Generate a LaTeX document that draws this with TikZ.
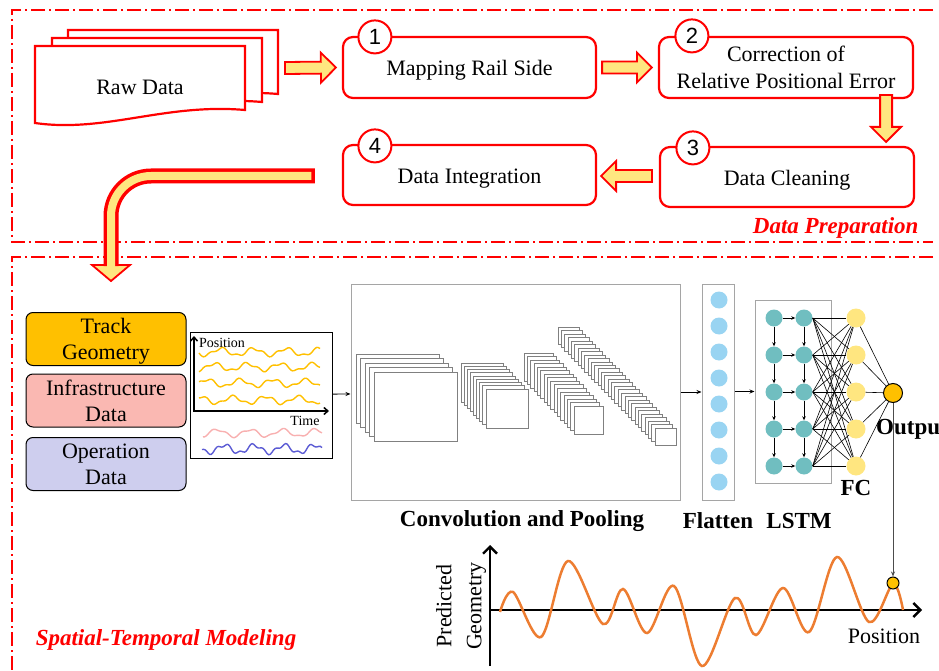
\documentclass[tikz,border=0pt]{standalone}
\usepackage{fontspec}
\setmainfont{Liberation Serif}
\newfontfamily\numfont{Liberation Sans}
\usetikzlibrary{arrows.meta, calc}

\definecolor{arrowfill}{RGB}{255,230,128}
\definecolor{trackcol}{RGB}{255,192,0}
\definecolor{infracol}{RGB}{250,184,178}
\definecolor{opercol}{RGB}{206,206,238}
\definecolor{wavepink}{RGB}{248,176,176}
\definecolor{waveblue}{RGB}{92,92,212}
\definecolor{flatcol}{RGB}{153,212,242}
\definecolor{lstmcol}{RGB}{112,190,192}
\definecolor{fccol}{RGB}{255,230,128}
\definecolor{predcol}{RGB}{237,125,49}
\definecolor{boxgray}{RGB}{165,165,165}

\begin{document}
\begin{tikzpicture}[x=1pt, y=-1pt,
stepbox/.style={draw=red, fill=white, line width=2.2pt, rounded corners=10pt, minimum width=253pt, minimum height=61pt, align=center, font=\fontsize{22}{27}\selectfont},
oneline/.style={text height=22pt, text depth=5pt},
numcirc/.style={circle, draw=red, fill=white, line width=2pt, minimum size=33pt, inner sep=0pt, font=\numfont\fontsize{22}{22}\selectfont},
blockarrow/.style={draw=red, fill=arrowfill, line width=1.8pt, to path={
  let \p1=(\tikztostart), \p2=(\tikztotarget), \n1={atan2(\y2-\y1,\x2-\x1)}, \n2={veclen(\x2-\x1,\y2-\y1)} in
  [shift={(\p1)}, rotate=\n1] (0,6) -- (\n2-15,6) -- (\n2-15,15) -- (\n2,0) -- (\n2-15,-15) -- (\n2-15,-6) -- (0,-6) -- cycle}},
sectionframe/.style={red, line width=1.5pt, dash pattern=on 14pt off 4pt on 2pt off 4pt},
sectionlabel/.style={text=red, font=\bfseries\itshape\fontsize{23}{23}\selectfont},
inbox/.style={draw, rounded corners=7pt, line width=1pt, minimum width=160pt, minimum height=53pt, align=center, text depth=0pt, font=\fontsize{22}{26}\selectfont},
panel/.style={draw=boxgray, line width=1pt, inner sep=0pt},
fmap/.style={draw=gray, fill=white, line width=0.6pt},
link/.style={-{Stealth[length=5pt,width=4pt]}, line width=0.8pt},
flatnode/.style={circle, fill=flatcol, minimum size=17pt, inner sep=0pt},
lstmnode/.style={circle, fill=lstmcol, minimum size=17pt, inner sep=0pt},
fcnode/.style={circle, fill=fccol, minimum size=19pt, inner sep=0pt},
netlabel/.style={font=\bfseries\fontsize{23}{23}\selectfont}
]
\useasboundingbox (0,0) rectangle (939,671);

% Sections
\draw[sectionframe] (933,10) -- (12,10) -- (12,242) -- (933,242);
\draw[sectionframe] (933,257) -- (12,257) -- (12,671);

% Raw data
\foreach \dx/\dy in {33/-16, 17/-8, 0/0}
  \draw[red, fill=white, line width=2.2pt, shift={(\dx,\dy)}] (35,46) -- (245,46) -- (245,110) .. controls (165,103) and (105,133) .. (35,123) -- cycle;
\node[font=\fontsize{22}{22}\selectfont] (raw) at (140,87) {Raw Data};
\coordinate (rawout) at (285,68);

% Preparation steps
\node[stepbox, oneline] (m1) at (469.5,67.5) {Mapping Rail Side};
\node[stepbox, minimum width=254pt, text depth=0pt] (m2) at (786,67.5) {Correction of\\Relative Positional Error};
\node[stepbox, oneline, minimum width=254pt, minimum height=60pt] (m3) at (787,177) {Data Cleaning};
\node[stepbox, oneline, minimum height=60pt] (m4) at (469.5,175) {Data Integration};

\node[numcirc] (n1) at ($(m1.north west)+(33,1)$) {1};
\node[numcirc] (n2) at ($(m2.north west)+(34,0)$) {2};
\node[numcirc] (n3) at ($(m3.north west)+(34,2)$) {3};
\node[numcirc] (n4) at ($(m4.north west)+(33,2)$) {4};

\draw[blockarrow] (rawout) to ($(m1.west)+(-6,0)$);
\draw[blockarrow] ($(m1.east)+(5,0)$) to ($(m2.west)+(-6,0)$);
\draw[blockarrow] ($(m2.south east)+(-28,-4)$) to ($(m3.north east)+(-29,-4)$);
\draw[blockarrow] ($(m3.west)+(-7,-1)$) to ($(m4.east)+(4,1)$);

% Into the model
\coordinate (modelin) at (111,281);
\draw[red, fill=arrowfill, line width=1.8pt, line join=miter] ($(modelin)+(-19,-16)$) -- ($(modelin)+(19,-16)$) -- (modelin) -- cycle;
\draw[red, line width=15pt, rounded corners=40pt] ($(m4.west)+(-27,1)$) -| ($(modelin)+(0,-15)$);
\draw[arrowfill, line width=8pt, rounded corners=40pt] ($(m4.west)+(-30.5,1)$) -| ($(modelin)+(0,-13)$);

\node[sectionlabel, anchor=east] (prep) at (922,228) {Data Preparation};

% Inputs
\node[inbox, fill=trackcol] (track) at (106,339) {Track\\Geometry};
\node[inbox, fill=infracol] (infra) at (106,400.5) {Infrastructure\\Data};
\node[inbox, fill=opercol] (oper) at (106,464) {Operation\\Data};

\node[draw, line width=0.8pt, minimum width=142pt, minimum height=126pt, inner sep=0pt] (series) at (261,395) {};
\draw[line width=1.5pt, {Straight Barb[length=4pt,width=7pt]}-{Straight Barb[length=4pt,width=7pt]}] (194,336) -- (194,411) -- (329,411);
\node[font=\fontsize{14}{14}\selectfont] (poslabel) at (222,343) {Position};
\node[font=\fontsize{14}{14}\selectfont] (timelabel) at (305,421) {Time};
\foreach \yy/\ph in {352/0, 367/70, 383/150, 400/230}
  \draw[trackcol, line width=1.4pt] plot[domain=199:320, samples=80, smooth] (\x, {\yy + 3.5*sin(11*\x+\ph) + 1.4*sin(27*\x+2*\ph)});
\draw[wavepink, line width=1.4pt] plot[domain=203:322, samples=80, smooth] (\x, {433 + 3.5*sin(11*\x+40) + 1.2*sin(25*\x)});
\draw[waveblue, line width=1.4pt] plot[domain=202:322, samples=80, smooth] (\x, {449 + 4*sin(12*\x+100) + 1.8*sin(31*\x+30)});

% Convolution and pooling
\node[panel, minimum width=329pt, minimum height=216pt] (conv) at (515.5,392) {};
\foreach \i in {0,...,4}
  \draw[fmap] (356+4.5*\i,354+4.5*\i) rectangle ++(83,69);
\foreach \i in {0,...,8}
  \draw[fmap] (461+3.1*\i,363+3.25*\i) rectangle ++(42,39);
\foreach \i in {0,...,15}
  \draw[fmap] (524+3.33*\i,353+3.53*\i) rectangle ++(29,28);
\foreach \i in {0,...,29}
  \draw[fmap] (558+3.34*\i,327+3.48*\i) rectangle ++(21,17);

% Flatten
\node[panel, minimum width=32pt, minimum height=216pt] (flat) at (718,392) {};
\foreach \i in {0,...,7}
  \node[flatnode] (fl\i) at (719,300+26*\i) {};

% LSTM
\node[panel, minimum width=76pt, minimum height=183pt] (lstm) at (793,391.5) {};
\foreach \i in {1,...,5} {
  \node[lstmnode] (a\i) at (774,281+37*\i) {};
  \node[lstmnode] (b\i) at (804,281+37*\i) {};
  \node[fcnode] (f\i) at (856,281+37*\i) {};
}
\foreach \i in {1,...,5}
  \draw[-{Stealth[length=4pt,width=3.5pt]}, line width=0.7pt] (a\i) -- (b\i);
\foreach \i/\j in {1/2, 2/3, 3/4, 4/5} {
  \draw[-{Stealth[length=4pt,width=3.5pt]}, line width=0.7pt] (a\i) -- (a\j);
  \draw[-{Stealth[length=4pt,width=3.5pt]}, line width=0.7pt] (b\i) -- (b\j);
}

% FC and output
\node[circle, draw, fill=trackcol, line width=1pt, minimum size=19pt, inner sep=0pt] (output) at (893,393) {};
\foreach \i in {1,...,5} {
  \foreach \j in {1,...,5}
    \draw[line width=0.6pt] (b\i.east) -- (f\j);
  \draw[line width=0.6pt] (f\i) -- (output);
}

\draw[link] (series) -- (conv);
\draw[link] (conv) -- (flat);
\draw[link] (flat.east |- lstm.west) -- (lstm.west);

\node[netlabel] (outlabel) at (912,429) {Output};
\node[netlabel] (fclabel) at (856,488) {FC};
\node[netlabel] (convlabel) at (522,521) {Convolution and Pooling};
\node[netlabel] (flatlabel) at (718,521) {Flatten};
\node[netlabel] (lstmlabel) at (799,521) {LSTM};

% Prediction
\draw[line width=2.4pt, -{Straight Barb[length=7pt,width=14pt]}] (490,666) -- (490,545);
\draw[line width=2.4pt, -{Straight Barb[length=7pt,width=14pt]}] (490,610) -- (922,610);
\draw[predcol, line width=2.5pt] plot[smooth, tension=0.55] coordinates {(500,612) (513,592) (541,637) (568,561) (603,624) (623,589) (647,633) (674,586) (702,666) (735,598) (756,635) (783,588) (809,632) (837,557) (869,622) (893,584) (903,610)};
\node[circle, draw, fill=trackcol, line width=1pt, minimum size=12pt, inner sep=0pt] (pred) at (893,583) {};
\draw[link, draw=black!70] (output) -- (pred);
\node[rotate=90, align=center, font=\fontsize{22}{30}\selectfont] (ylabel) at (461,606) {Predicted\\Geometry};
\node[font=\fontsize{22}{22}\selectfont] (xlabel) at (884,636) {Position};

\node[sectionlabel] (model) at (166,640) {Spatial-Temporal Modeling};

\end{tikzpicture}
\end{document}
